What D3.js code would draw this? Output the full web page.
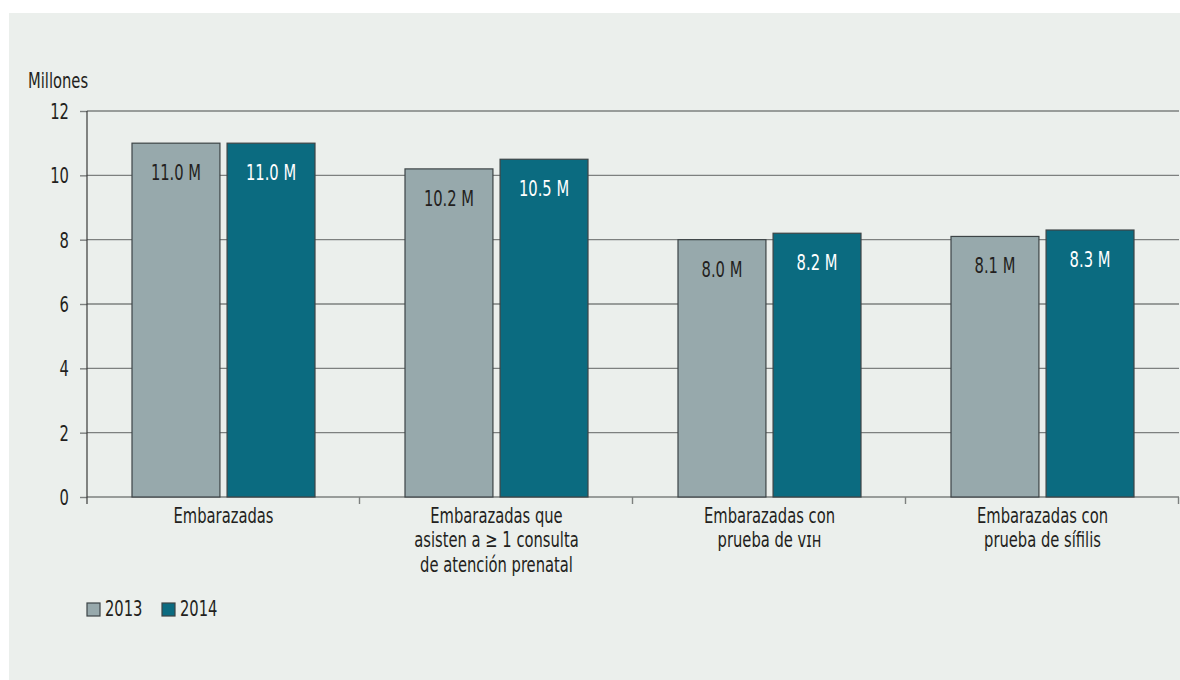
<!DOCTYPE html>
<html>
<head>
<meta charset="utf-8">
<script src="https://cdn.jsdelivr.net/npm/d3@7"></script>
<style>
  html, body { margin: 0; padding: 0; background: #ffffff; }
  svg { display: block; }
  text { font-family: "DejaVu Sans Condensed", "DejaVu Sans", sans-serif; fill: #231f20; }
</style>
</head>
<body>
<svg id="chart" width="1180" height="680"></svg>
<script>
// Pregnant women receiving prenatal services, millions
const categories = [
  ["Embarazadas"],
  ["Embarazadas que", "asisten a \u2265 1 consulta", "de atención prenatal"],
  ["Embarazadas con", "prueba de \u1D20\u026A\u029C"],
  ["Embarazadas con", "prueba de sífilis"]
];
const years = ["2013", "2014"];
const values2013 = [11.0, 10.2, 8.0, 8.1];
const values2014 = [11.0, 10.5, 8.2, 8.3];
const yTicks = [0, 2, 4, 6, 8, 10, 12];
const yTitle = "Millones";

const colors = { "2013": "#97a9ac", "2014": "#0b6b80" };
const labelColors = { "2013": "#231f20", "2014": "#ffffff" };
const FONT_SIZE = 21;
const SX = 0.78; // horizontal squeeze for a narrow typeface look

// place a text element at (x, y) with a horizontal squeeze
function place(sel, x, y) {
  sel.attr("transform", `translate(${x},${y}) scale(${SX},1)`)
    .attr("x", 0).attr("y", 0);
}

const svg = d3.select("#chart");

// background panel
svg.append("rect")
  .attr("x", 9).attr("y", 13)
  .attr("width", 1171).attr("height", 667)
  .attr("fill", "#ebefec");

const plot = { left: 87, right: 1179, top: 111, bottom: 497 };

const x0 = d3.scaleBand()
  .domain(d3.range(categories.length))
  .range([plot.left, plot.right])
  .paddingInner(0).paddingOuter(0);

const x1 = d3.scaleBand()
  .domain(years)
  .range([45, x0.bandwidth() - 45])
  .paddingInner(0.075);

const y = d3.scaleLinear().domain([0, 12]).range([plot.bottom, plot.top]);

// horizontal gridlines
svg.append("g")
  .selectAll("line")
  .data(yTicks)
  .join("line")
  .attr("x1", plot.left).attr("x2", plot.right)
  .attr("y1", d => y(d)).attr("y2", d => y(d))
  .attr("stroke", "#7d807f")
  .attr("stroke-width", 1.4);

// y axis
const yAxis = d3.axisLeft(y).tickValues(yTicks).tickSize(7).tickPadding(11).tickFormat(d3.format("d"));
const gy = svg.append("g")
  .attr("transform", `translate(${plot.left},0)`)
  .call(yAxis);
gy.attr("font-family", null).attr("font-size", null);
gy.select(".domain").remove();
gy.selectAll(".tick line").attr("stroke", "#7d807f").attr("stroke-width", 1.4);
gy.selectAll(".tick text")
  .attr("font-size", FONT_SIZE)
  .attr("fill", "#231f20")
  .attr("dy", null)
  .each(function () { place(d3.select(this), -18, 7.5); });
svg.append("line")
  .attr("x1", plot.left).attr("x2", plot.left)
  .attr("y1", plot.top).attr("y2", plot.bottom + 7)
  .attr("stroke", "#3a3a3a").attr("stroke-width", 1.2);

// category separator ticks on the x axis
svg.append("g")
  .selectAll("line")
  .data(d3.range(1, categories.length + 1))
  .join("line")
  .attr("x1", d => x0(0) + d * x0.bandwidth() - 0.5)
  .attr("x2", d => x0(0) + d * x0.bandwidth() - 0.5)
  .attr("y1", plot.bottom).attr("y2", plot.bottom + 7)
  .attr("stroke", "#7d807f").attr("stroke-width", 1.4);

// y title
svg.append("text")
  .attr("font-size", FONT_SIZE)
  .text(yTitle)
  .call(place, 28, 88);

// bars
const rows = categories.map((c, i) => ({ i, vals: { "2013": values2013[i], "2014": values2014[i] } }));
const groups = svg.append("g").selectAll("g")
  .data(rows)
  .join("g")
  .attr("transform", d => `translate(${x0(d.i)},0)`);

groups.selectAll("rect")
  .data(d => years.map(yr => ({ yr, v: d.vals[yr] })))
  .join("rect")
  .attr("x", d => x1(d.yr))
  .attr("y", d => y(d.v))
  .attr("width", x1.bandwidth())
  .attr("height", d => y(0) - y(d.v))
  .attr("fill", d => colors[d.yr])
  .attr("stroke", "#3d4446")
  .attr("stroke-width", 1.2);

groups.selectAll("text.val")
  .data(d => years.map(yr => ({ yr, v: d.vals[yr] })))
  .join("text")
  .attr("class", "val")
  .attr("text-anchor", "middle")
  .attr("font-size", FONT_SIZE)
  .style("fill", d => labelColors[d.yr])
  .text(d => d3.format(".1f")(d.v) + " M")
  .each(function (d) { place(d3.select(this), x1(d.yr) + x1.bandwidth() / 2, y(d.v) + 37); });

// category labels
svg.append("g").selectAll("text")
  .data(categories)
  .join("text")
  .attr("text-anchor", "middle")
  .attr("font-size", FONT_SIZE)
  .each(function (lines, i) {
    const t = d3.select(this);
    place(t, x0(i) + x0.bandwidth() / 2, 523);
    t.selectAll("tspan")
      .data(lines)
      .join("tspan")
      .attr("x", 0)
      .attr("dy", (d, k) => k === 0 ? 0 : 24.5)
      .text(d => d);
  });

// legend
const legend = svg.append("g").attr("transform", "translate(87,603)");
const item = legend.selectAll("g")
  .data(years)
  .join("g")
  .attr("transform", (d, i) => `translate(${i * 75},0)`);
item.append("rect")
  .attr("width", 13).attr("height", 13)
  .attr("fill", d => colors[d])
  .attr("stroke", "#3d4446").attr("stroke-width", 1.2);
item.append("text")
  .attr("font-size", FONT_SIZE)
  .text(d => d)
  .call(place, 18, 13);
</script>
</body>
</html>
